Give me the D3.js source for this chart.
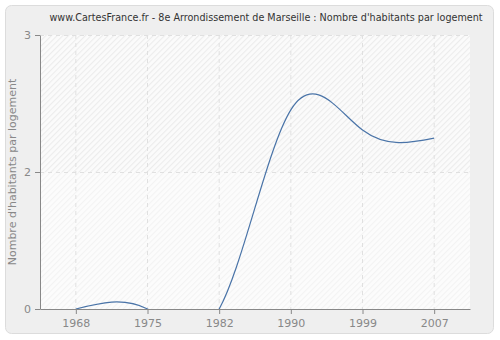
<!DOCTYPE html>
<html>
<head>
<meta charset="utf-8">
<script src="https://cdn.jsdelivr.net/npm/d3@7"></script>
<style>
  body { margin: 0; background: #fff; }
  text { font-family: "DejaVu Sans", Verdana, sans-serif; }
</style>
</head>
<body>
<div id="chart"></div>
<script>
// data
var years = ["1968", "1975", "1982", "1990", "1999", "2007"];
var values = [0, 0, 0, 2.18, 1.96, 1.87];
var yTicks = [0, 1.5, 3];

var W = 500, H = 340;
var margin = {top: 35, right: 30, bottom: 31, left: 40},
    width = W - margin.left - margin.right,
    height = H - margin.top - margin.bottom;

var svg = d3.select("#chart").append("svg")
    .attr("width", W)
    .attr("height", H);

// hatch patterns
var defs = svg.append("defs");
function hatch(id, bg, stroke) {
  var p = defs.append("pattern")
      .attr("id", id)
      .attr("patternUnits", "userSpaceOnUse")
      .attr("width", 4).attr("height", 4)
      .attr("patternTransform", "rotate(45)");
  p.append("rect").attr("width", 4).attr("height", 4).attr("fill", bg);
  p.append("line").attr("x1", 0.5).attr("y1", 0).attr("x2", 0.5).attr("y2", 4)
      .attr("stroke", stroke).attr("stroke-width", 1.2);
}
hatch("hatchDark", "#fbfbfb", "#ececec");
hatch("hatchLight", "#fcfcfc", "#f3f3f3");

defs.append("clipPath").attr("id", "plotclip")
  .append("rect").attr("width", width).attr("height", height);

// outer frame
svg.append("rect")
    .attr("x", 5.5).attr("y", 5.5)
    .attr("width", W - 12).attr("height", H - 12)
    .attr("rx", 6)
    .attr("fill", "#efefef")
    .attr("stroke", "#dcdcdc");

svg.append("text")
    .attr("x", 266).attr("y", 21)
    .attr("text-anchor", "middle")
    .attr("font-size", 9.6)
    .attr("textLength", 433)
    .attr("lengthAdjust", "spacingAndGlyphs")
    .attr("fill", "#333")
    .text("www.CartesFrance.fr - 8e Arrondissement de Marseille : Nombre d'habitants par logement");

var g = svg.append("g")
    .attr("transform", "translate(" + margin.left + "," + margin.top + ")");

var x = d3.scalePoint().domain(years).range([0, width]).padding(0.5);
var y = d3.scaleLinear().domain([0, 3]).range([height, 0]);

// background bands
g.append("rect")
    .attr("x", 0).attr("y", y(3))
    .attr("width", width).attr("height", y(1.5) - y(3))
    .attr("fill", "url(#hatchDark)");
g.append("rect")
    .attr("x", 0).attr("y", y(1.5))
    .attr("width", width).attr("height", y(0) - y(1.5))
    .attr("fill", "url(#hatchLight)");

// grid
g.selectAll(".vgrid").data(years).enter().append("line")
    .attr("class", "vgrid")
    .attr("x1", function(d) { return x(d); })
    .attr("x2", function(d) { return x(d); })
    .attr("y1", 0).attr("y2", height)
    .attr("stroke", "#e0e0e0")
    .attr("stroke-dasharray", "4,4");
g.selectAll(".hgrid").data(yTicks.slice(1)).enter().append("line")
    .attr("class", "hgrid")
    .attr("x1", 0).attr("x2", width)
    .attr("y1", function(d) { return Math.round(y(d)) + 0.5; })
    .attr("y2", function(d) { return Math.round(y(d)) + 0.5; })
    .attr("stroke", "#e0e0e0")
    .attr("stroke-dasharray", "4,4");

// line
var line = d3.line()
    .x(function(d, i) { return x(years[i]); })
    .y(function(d) { return y(d); })
    .curve(d3.curveNatural);

g.append("path")
    .datum(values)
    .attr("clip-path", "url(#plotclip)")
    .attr("fill", "none")
    .attr("stroke", "#4a74a8")
    .attr("stroke-width", 1.2)
    .attr("d", line);

// axes
var xAxis = g.append("g")
    .attr("transform", "translate(0," + height + ")")
    .call(d3.axisBottom(x).tickSize(5).tickSizeOuter(0).tickPadding(5));
var yAxis = g.append("g")
    .call(d3.axisLeft(y).tickValues(yTicks).tickSize(5).tickSizeOuter(0)
      .tickPadding(4).tickFormat(d3.format(".0f")));

[xAxis, yAxis].forEach(function(a) {
  a.select(".domain").attr("stroke", "#888");
  a.selectAll(".tick line").attr("stroke", "#888");
  a.selectAll(".tick text")
      .attr("fill", "#888")
      .attr("font-size", 11)
      .style("font-family", "'DejaVu Sans', Verdana, sans-serif");
});

svg.append("text")
    .attr("transform", "translate(16," + (margin.top + height / 2) + ") rotate(-90)")
    .attr("text-anchor", "middle")
    .attr("font-size", 11)
    .attr("fill", "#888")
    .text("Nombre d'habitants par logement");
</script>
</body>
</html>
